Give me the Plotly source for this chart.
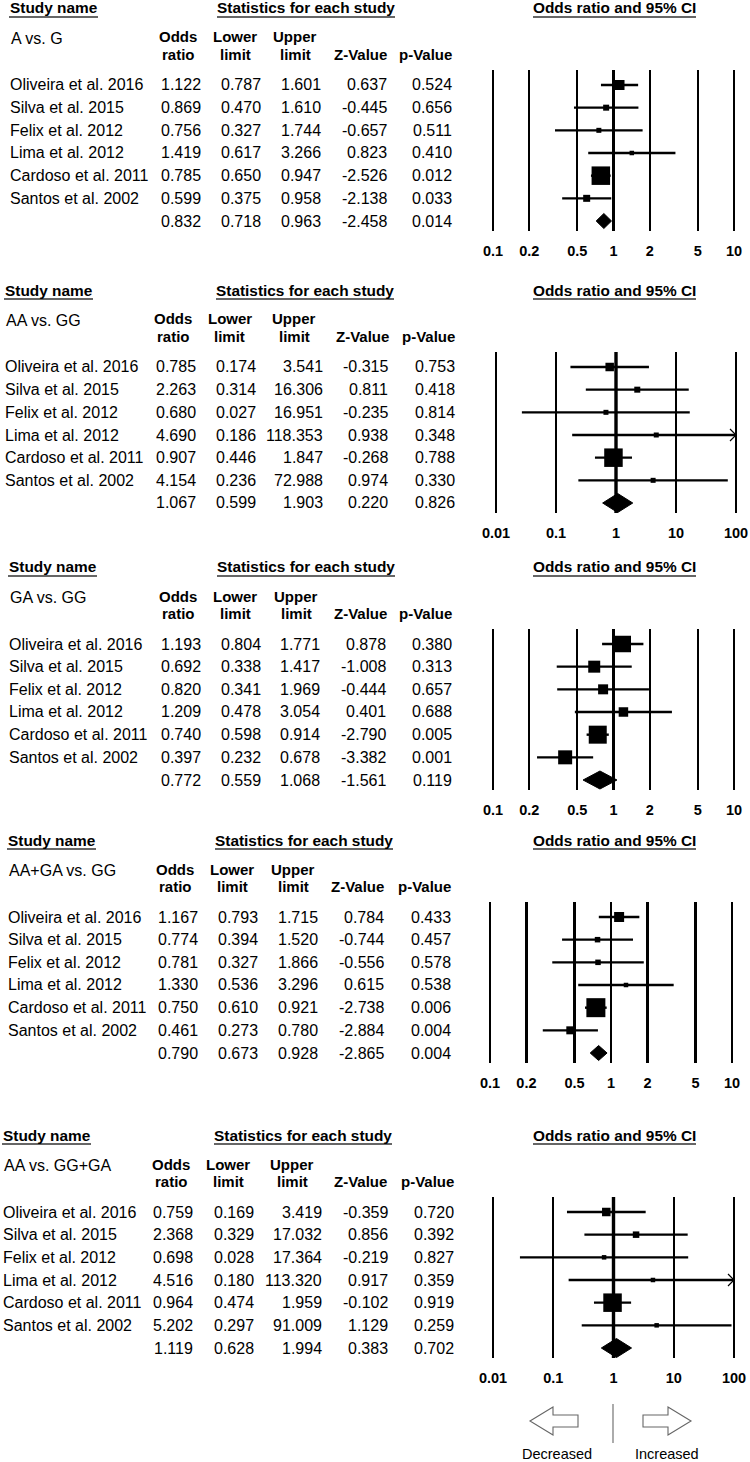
import plotly.graph_objects as go
import math

# ---------------- DATA ----------------
studies = ["Oliveira et al. 2016", "Silva et al. 2015", "Felix et al. 2012",
           "Lima et al. 2012", "Cardoso et al. 2011", "Santos et al. 2002"]
comparisons = ["A vs. G", "AA vs. GG", "GA vs. GG", "AA+GA vs. GG", "AA vs. GG+GA"]

# last value of each list = pooled (summary) estimate
a_g_or = [1.122, 0.869, 0.756, 1.419, 0.785, 0.599, 0.832]
a_g_lo = [0.787, 0.470, 0.327, 0.617, 0.650, 0.375, 0.718]
a_g_up = [1.601, 1.610, 1.744, 3.266, 0.947, 0.958, 0.963]
a_g_z = [0.637, -0.445, -0.657, 0.823, -2.526, -2.138, -2.458]
a_g_p = [0.524, 0.656, 0.511, 0.410, 0.012, 0.033, 0.014]

aa_gg_or = [0.785, 2.263, 0.680, 4.690, 0.907, 4.154, 1.067]
aa_gg_lo = [0.174, 0.314, 0.027, 0.186, 0.446, 0.236, 0.599]
aa_gg_up = [3.541, 16.306, 16.951, 118.353, 1.847, 72.988, 1.903]
aa_gg_z = [-0.315, 0.811, -0.235, 0.938, -0.268, 0.974, 0.220]
aa_gg_p = [0.753, 0.418, 0.814, 0.348, 0.788, 0.330, 0.826]

ga_gg_or = [1.193, 0.692, 0.820, 1.209, 0.740, 0.397, 0.772]
ga_gg_lo = [0.804, 0.338, 0.341, 0.478, 0.598, 0.232, 0.559]
ga_gg_up = [1.771, 1.417, 1.969, 3.054, 0.914, 0.678, 1.068]
ga_gg_z = [0.878, -1.008, -0.444, 0.401, -2.790, -3.382, -1.561]
ga_gg_p = [0.380, 0.313, 0.657, 0.688, 0.005, 0.001, 0.119]

aaga_gg_or = [1.167, 0.774, 0.781, 1.330, 0.750, 0.461, 0.790]
aaga_gg_lo = [0.793, 0.394, 0.327, 0.536, 0.610, 0.273, 0.673]
aaga_gg_up = [1.715, 1.520, 1.866, 3.296, 0.921, 0.780, 0.928]
aaga_gg_z = [0.784, -0.744, -0.556, 0.615, -2.738, -2.884, -2.865]
aaga_gg_p = [0.433, 0.457, 0.578, 0.538, 0.006, 0.004, 0.004]

aa_ggga_or = [0.759, 2.368, 0.698, 4.516, 0.964, 5.202, 1.119]
aa_ggga_lo = [0.169, 0.329, 0.028, 0.180, 0.474, 0.297, 0.628]
aa_ggga_up = [3.419, 17.032, 17.364, 113.320, 1.959, 91.009, 1.994]
aa_ggga_z = [-0.359, 0.856, -0.219, 0.917, -0.102, 1.129, 0.383]
aa_ggga_p = [0.720, 0.392, 0.827, 0.359, 0.919, 0.259, 0.702]

ticks_narrow = [0.1, 0.2, 0.5, 1, 2, 5, 10]
ticks_wide = [0.01, 0.1, 1, 10, 100]

col_headers_top = ["Odds", "Lower", "Upper", "", ""]
col_headers_bot = ["ratio", "limit", "limit", "Z-Value", "p-Value"]

panels = [
    (comparisons[0], a_g_or, a_g_lo, a_g_up, a_g_z, a_g_p, ticks_narrow),
    (comparisons[1], aa_gg_or, aa_gg_lo, aa_gg_up, aa_gg_z, aa_gg_p, ticks_wide),
    (comparisons[2], ga_gg_or, ga_gg_lo, ga_gg_up, ga_gg_z, ga_gg_p, ticks_narrow),
    (comparisons[3], aaga_gg_or, aaga_gg_lo, aaga_gg_up, aaga_gg_z, aaga_gg_p, ticks_narrow),
    (comparisons[4], aa_ggga_or, aa_ggga_lo, aa_ggga_up, aa_ggga_z, aa_ggga_p, ticks_wide),
]

# ---------------- LAYOUT / STYLE ----------------
W, H = 750, 1462
FONT = "Liberation Sans"
SP = 136 / 6.0  # row spacing in px
FS = 16.0       # body font size

panel_layout = [
    dict(row0=85, name_x=9, right=[202, 262, 322, 388, 453], hdr=[178, 235, 295, 360, 425], stat_c=306, tpx=(493, 734)),
    dict(row0=367, name_x=4, right=[197, 257, 324, 389, 456], hdr=[173, 230, 294, 362, 428], stat_c=305, tpx=(496, 736)),
    dict(row0=644, name_x=8, right=[202, 262, 321, 387, 453], hdr=[178, 235, 296, 360, 426], stat_c=306, tpx=(493, 734)),
    dict(row0=917, name_x=7, right=[199, 259, 319, 385, 452], hdr=[175, 232, 293, 357, 424], stat_c=304, tpx=(490, 732)),
    dict(row0=1212, name_x=2, right=[194, 255, 323, 389, 455], hdr=[171, 228, 292, 360, 427], stat_c=303, tpx=(493, 734)),
]
box_sizes = [
    [10, 6, 5, 4.5, 18.5, 7],
    [8.5, 6, 5, 5, 18.5, 5],
    [16.5, 12, 10, 9.5, 18, 14],
    [10, 5.5, 5.5, 4.5, 19, 8],
    [8.5, 6.5, 4.5, 4.5, 18.5, 4.5],
]
diamond_h = [15, 19, 18, 15, 19]
DOM_L, DOM_R = 480, 748


def X(px):
    return px / W


def Y(py):
    return 1 - py / H


annotations = []
shapes = []


def txt(x_px, y_px, s, anchor="left", bold=False, size=FS, color="black"):
    annotations.append(dict(
        x=X(x_px), y=Y(y_px), xref="paper", yref="paper",
        text=("<b>" + s + "</b>") if bold else s, showarrow=False,
        xanchor=anchor, yanchor="middle", borderpad=0,
        font=dict(family=FONT, size=size, color=color)))


def hline(x0, x1, y, color="#333", width=1.5):
    shapes.append(dict(type="line", xref="paper", yref="paper",
                       x0=X(x0), x1=X(x1), y0=Y(y), y1=Y(y),
                       line=dict(color=color, width=width)))


fig = go.Figure()
layout_axes = {}

for k, (label, o, lo, up, z, p, ticks) in enumerate(panels):
    L = panel_layout[k]
    r0 = L["row0"]
    sfx = "" if k == 0 else str(k + 1)
    xa, ya = "x" + sfx, "y" + sfx

    # log-axis range so that first/last tick land on their pixel positions
    t0, t1 = math.log10(ticks[0]), math.log10(ticks[-1])
    ppd = (L["tpx"][1] - L["tpx"][0]) / (t1 - t0)
    rng = [t0 - (L["tpx"][0] - DOM_L) / ppd, t1 + (DOM_R - L["tpx"][1]) / ppd]
    xmax = ticks[-1]

    top_px, bot_px = r0 - 15, r0 + 6 * SP + 10
    layout_axes["xaxis" + sfx] = dict(
        type="log", range=rng, domain=[X(DOM_L), X(DOM_R)], anchor=ya,
        tickvals=ticks, ticktext=[("%g" % t) for t in ticks],
        showgrid=True, gridcolor="black", gridwidth=2.4, showline=False,
        zeroline=False, ticks="", ticklabelstandoff=9,
        tickfont=dict(family=FONT, size=14.5, color="black", weight="bold"),
        fixedrange=True)
    layout_axes["yaxis" + sfx] = dict(
        range=[6 + 10 / SP, -15 / SP], domain=[Y(bot_px), Y(top_px)], anchor=xa,
        showgrid=False, zeroline=False, showticklabels=False, showline=False,
        fixedrange=True)

    # thicker null line on wide panels
    if ticks is ticks_wide:
        fig.add_trace(go.Scatter(x=[1, 1], y=[6 + 10 / SP, -15 / SP], mode="lines",
                                 line=dict(color="black", width=3.4),
                                 xaxis=xa, yaxis=ya, showlegend=False, hoverinfo="skip"))

    # CI lines & boxes for each study
    for i in range(6):
        x_hi = min(up[i], xmax)
        fig.add_trace(go.Scatter(x=[lo[i], x_hi], y=[i, i], mode="lines",
                                 line=dict(color="black", width=2.4),
                                 xaxis=xa, yaxis=ya, showlegend=False, hoverinfo="skip"))
        if up[i] > xmax:
            back = xmax / 10 ** (6 / ppd)
            dy = 6 / SP
            fig.add_trace(go.Scatter(x=[back, xmax, back], y=[i - dy, i, i + dy], mode="lines",
                                     line=dict(color="black", width=1.2),
                                     xaxis=xa, yaxis=ya, showlegend=False, hoverinfo="skip"))
    fig.add_trace(go.Scatter(x=o[:6], y=list(range(6)), mode="markers",
                             marker=dict(symbol="square", size=box_sizes[k], color="black",
                                         opacity=1, line=dict(width=0)),
                             xaxis=xa, yaxis=ya, showlegend=False, hoverinfo="skip"))
    # summary diamond
    hh = diamond_h[k] / 2 / SP
    fig.add_trace(go.Scatter(x=[lo[6], o[6], up[6], o[6], lo[6]],
                             y=[6, 6 - hh, 6, 6 + hh, 6], mode="lines", fill="toself",
                             fillcolor="black", line=dict(color="black", width=1),
                             xaxis=xa, yaxis=ya, showlegend=False, hoverinfo="skip"))

    # ---- table text ----
    hy = r0 - 77
    txt(L["name_x"], hy, "Study name", bold=True, size=15.4)
    hline(L["name_x"], L["name_x"] + 89, hy + 9)
    txt(L["stat_c"], hy, "Statistics for each study", anchor="center", bold=True, size=15.4)
    hline(L["stat_c"] - 89, L["stat_c"] + 89, hy + 9)
    txt(614.5, hy, "Odds ratio and 95% CI", anchor="center", bold=True, size=15.4)
    hline(533, 696, hy + 9)

    txt(L["name_x"] + 1, r0 - 47, label)
    for c in range(5):
        if col_headers_top[c]:
            txt(L["hdr"][c], r0 - 48, col_headers_top[c], anchor="center", bold=True, size=15)
        txt(L["hdr"][c], r0 - 31, col_headers_bot[c], anchor="center", bold=True, size=15)

    for i in range(7):
        ry = r0 + i * SP
        if i < 6:
            txt(L["name_x"], ry, studies[i])
        for c, arr in enumerate([o, lo, up, z, p]):
            txt(L["right"][c], ry, "%.3f" % arr[i], anchor="right")

# ---- direction legend at the bottom ----
def poly(pts, color="#666", width=1.1):
    path = "M " + " L ".join("%f,%f" % (X(a), Y(b)) for a, b in pts) + " Z"
    shapes.append(dict(type="path", xref="paper", yref="paper", path=path,
                       line=dict(color=color, width=width), fillcolor="rgba(0,0,0,0)"))


poly([(530, 1421), (553, 1407), (553, 1415), (578, 1415), (578, 1427), (553, 1427), (553, 1435)])
poly([(691, 1421), (668, 1407), (668, 1415), (643, 1415), (643, 1427), (668, 1427), (668, 1435)])
shapes.append(dict(type="line", xref="paper", yref="paper", x0=X(613), x1=X(613),
                   y0=Y(1404), y1=Y(1443), line=dict(color="#888", width=1.4)))
txt(557, 1454, "Decreased", anchor="center", size=14.5)
txt(667, 1454, "Increased", anchor="center", size=14.5)

fig.update_layout(
    width=W, height=H, margin=dict(l=0, r=0, t=0, b=0),
    paper_bgcolor="white", plot_bgcolor="white",
    annotations=annotations, shapes=shapes, showlegend=False,
    **layout_axes)

fig.write_html("out.html", config={"displayModeBar": False, "staticPlot": True},
               post_script="document.body.style.margin='0';document.body.style.padding='0';"
                           "document.documentElement.style.overflow='hidden';")
